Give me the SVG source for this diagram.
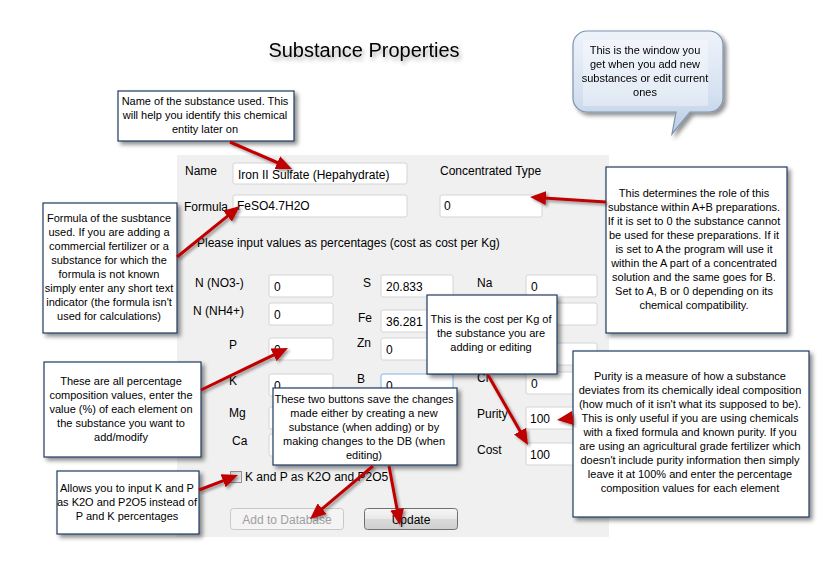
<svg xmlns="http://www.w3.org/2000/svg" width="818" height="587" viewBox="0 0 818 587">
<defs>
<style>
text{font-family:"Liberation Sans",Arial,sans-serif;}
.lbl{font-size:12px;fill:#000;}
.fld{fill:#fff;stroke:#d4d4d4;stroke-width:1;}
.ft{font-size:12px;fill:#000;}
.co{fill:#fff;stroke:#1f3a60;stroke-width:1.2;}
.ct{font-size:11px;fill:#000;text-anchor:middle;}
.ar{stroke:#c00000;stroke-width:3;fill:none;marker-end:url(#ah);}
</style>
<filter id="sh" x="-10%" y="-10%" width="130%" height="130%">
<feDropShadow dx="3" dy="3" stdDeviation="2" flood-color="#000" flood-opacity="0.45"/>
</filter>
<filter id="ash" x="-20%" y="-20%" width="140%" height="140%">
<feDropShadow dx="2" dy="2" stdDeviation="1.5" flood-color="#000" flood-opacity="0.4"/>
</filter>
<filter id="tsh" x="-10%" y="-30%" width="120%" height="180%">
<feDropShadow dx="2" dy="3" stdDeviation="2" flood-color="#000" flood-opacity="0.35"/>
</filter>
<marker id="ah" markerUnits="userSpaceOnUse" markerWidth="17" markerHeight="14" refX="6" refY="7" orient="auto">
<path d="M0,0 L16,7 L0,14 z" fill="#c00000"/>
</marker>
<linearGradient id="bub" x1="0" y1="0" x2="0" y2="1">
<stop offset="0" stop-color="#eef3fa"/>
<stop offset="0.6" stop-color="#d6e2f1"/>
<stop offset="1" stop-color="#b9cbe3"/>
</linearGradient>
<linearGradient id="btn" x1="0" y1="0" x2="0" y2="1">
<stop offset="0" stop-color="#f6f6f6"/>
<stop offset="0.5" stop-color="#e8e8e8"/>
<stop offset="0.51" stop-color="#dadada"/>
<stop offset="1" stop-color="#cfcfcf"/>
</linearGradient>
<linearGradient id="chk" x1="0" y1="0" x2="1" y2="1">
<stop offset="0" stop-color="#c8c8c8"/>
<stop offset="1" stop-color="#f4f4f4"/>
</linearGradient>
</defs>
<rect width="818" height="587" fill="#fff"/>

<g id="title">
<text x="364" y="57" font-size="20" text-anchor="middle" filter="url(#tsh)">Substance Properties</text>
</g>

<g id="form">
<rect x="177" y="155" width="432" height="382" fill="#f0f0f0"/>
<text class="lbl" x="185" y="175">Name</text>
<rect class="fld" x="233" y="163" width="174" height="21" rx="2"/>
<text class="ft" x="238" y="179">Iron II Sulfate (Hepahydrate)</text>
<text class="lbl" x="440" y="175">Concentrated Type</text>
<text class="lbl" x="184" y="211">Formula</text>
<rect class="fld" x="233" y="195" width="174" height="22" rx="2"/>
<text class="ft" x="237" y="210">FeSO4.7H2O</text>
<rect class="fld" x="440" y="195" width="102" height="22" rx="2"/>
<text class="ft" x="444" y="210">0</text>
<text class="lbl" x="197" y="247">Please input values as percentages (cost as cost per Kg)</text>

<text class="lbl" x="195" y="287">N (NO3-)</text>
<rect class="fld" x="269" y="275" width="64" height="22" rx="2"/>
<text class="ft" x="274" y="291">0</text>
<text class="lbl" x="193" y="315">N (NH4+)</text>
<rect class="fld" x="269" y="303" width="64" height="22" rx="2"/>
<text class="ft" x="274" y="319">0</text>
<text class="lbl" x="229" y="349">P</text>
<rect class="fld" x="269" y="338" width="64" height="22" rx="2"/>
<text class="ft" x="274" y="354">0</text>
<text class="lbl" x="229" y="385">K</text>
<rect class="fld" x="269" y="374" width="64" height="22" rx="2"/>
<text class="ft" x="274" y="390">0</text>
<text class="lbl" x="229" y="417">Mg</text>
<rect class="fld" x="269" y="407" width="64" height="22" rx="2"/>
<text class="lbl" x="232" y="445">Ca</text>
<rect class="fld" x="269" y="434" width="64" height="22" rx="2"/>

<text class="lbl" x="363" y="287">S</text>
<rect class="fld" x="381" y="275" width="72" height="22" rx="2"/>
<text class="ft" x="386" y="291">20.833</text>
<text class="lbl" x="358" y="322">Fe</text>
<rect class="fld" x="381" y="310" width="72" height="22" rx="2"/>
<text class="ft" x="386" y="326">36.281</text>
<text class="lbl" x="357" y="347">Zn</text>
<rect class="fld" x="381" y="338" width="72" height="22" rx="2"/>
<text class="ft" x="386" y="354">0</text>
<text class="lbl" x="357" y="383">B</text>
<rect x="381" y="374" width="72" height="22" rx="2" fill="#fff" stroke="#7eb4ea"/>
<text class="ft" x="386" y="390">0</text>
<rect class="fld" x="381" y="407" width="72" height="22" rx="2"/>
<rect class="fld" x="381" y="434" width="72" height="22" rx="2"/>

<text class="lbl" x="477" y="287">Na</text>
<rect class="fld" x="526" y="275" width="71" height="22" rx="2"/>
<text class="ft" x="531" y="291">0</text>
<rect class="fld" x="526" y="303" width="71" height="22" rx="2"/>
<rect class="fld" x="526" y="343" width="71" height="22" rx="2"/>
<text class="lbl" x="477" y="382">Cl</text>
<rect class="fld" x="526" y="372" width="71" height="22" rx="2"/>
<text class="ft" x="531" y="388">0</text>
<text class="lbl" x="477" y="418">Purity</text>
<rect class="fld" x="526" y="407" width="71" height="22" rx="2"/>
<text class="ft" x="530" y="423">100</text>
<text class="lbl" x="477" y="454">Cost</text>
<rect class="fld" x="526" y="443" width="71" height="22" rx="2"/>
<text class="ft" x="530" y="459">100</text>

<rect x="230.5" y="471.5" width="11" height="11" fill="url(#chk)" stroke="#8e8f8f"/>
<text class="lbl" x="245" y="481">K and P as K2O and P2O5</text>

<rect x="230.5" y="508.5" width="113" height="21" rx="3" fill="#f4f4f4" stroke="#c8c8c8"/>
<text x="287" y="524" font-size="12" fill="#a0a0a0" text-anchor="middle">Add to Database</text>
<rect x="364.5" y="508.5" width="93" height="21" rx="3" fill="url(#btn)" stroke="#707070"/>
<text x="411" y="524" font-size="12" fill="#000" text-anchor="middle">Update</text>
</g>

<g id="bubble" filter="url(#sh)">
<path d="M587,31 H709 A14,14 0 0 1 723,45 V98 A14,14 0 0 1 709,112 H690 L672,134 L676,112 H587 A14,14 0 0 1 573,98 V45 A14,14 0 0 1 587,31 Z" fill="url(#bub)" stroke="#7f93ad" stroke-width="1.2"/>
<rect x="583" y="40" width="125" height="66" fill="#fff" opacity="0.35"/>
<text class="ct" x="645" y="54">This is the window you</text>
<text class="ct" x="645" y="68">get when you add new</text>
<text class="ct" x="645" y="82">substances or edit current</text>
<text class="ct" x="645" y="96">ones</text>
</g>

<g id="callout-name">
<rect class="co" x="118" y="91" width="176" height="50" filter="url(#sh)"/>
<text class="ct" x="205" y="105">Name of the substance used. This</text>
<text class="ct" x="205" y="119">will help you identify this chemical</text>
<text class="ct" x="205" y="133">entity later on</text>
</g>

<g id="callout-formula">
<rect class="co" x="43" y="203" width="134" height="130" filter="url(#sh)"/>
<text class="ct" x="109" y="222">Formula of the susbtance</text>
<text class="ct" x="109" y="236">used. If you are adding a</text>
<text class="ct" x="109" y="250">commercial fertilizer or a</text>
<text class="ct" x="109" y="264">substance for which the</text>
<text class="ct" x="109" y="278">formula is not known</text>
<text class="ct" x="109" y="292">simply enter any short text</text>
<text class="ct" x="109" y="306">indicator (the formula isn't</text>
<text class="ct" x="109" y="320">used for calculations)</text>
</g>

<g id="callout-concentrated">
<rect class="co" x="606" y="167" width="181" height="166" filter="url(#sh)"/>
<text class="ct" x="694" y="197">This determines the role of this</text>
<text class="ct" x="694" y="211">substance within A+B preparations.</text>
<text class="ct" x="694" y="225">If it is set to 0 the substance cannot</text>
<text class="ct" x="694" y="239">be used for these preparations. If it</text>
<text class="ct" x="694" y="253">is set to A the program will use it</text>
<text class="ct" x="694" y="267">within the A part of a concentrated</text>
<text class="ct" x="694" y="281">solution and the same goes for B.</text>
<text class="ct" x="694" y="295">Set to A, B or 0 depending on its</text>
<text class="ct" x="694" y="309">chemical compatibility.</text>
</g>

<g id="callout-cost">
<rect class="co" x="427" y="295" width="130" height="79" filter="url(#sh)"/>
<text class="ct" x="491" y="323">This is the cost per Kg of</text>
<text class="ct" x="491" y="337">the substance you are</text>
<text class="ct" x="491" y="351">adding or editing</text>
</g>

<g id="callout-purity">
<rect class="co" x="573" y="351" width="236" height="166" filter="url(#sh)"/>
<text class="ct" x="690" y="380">Purity is a measure of how a substance</text>
<text class="ct" x="690" y="394">deviates from its chemically ideal composition</text>
<text class="ct" x="690" y="408">(how much of it isn't what its supposed to be).</text>
<text class="ct" x="690" y="422">This is only useful if you are using chemicals</text>
<text class="ct" x="690" y="436">with a fixed formula and known purity. If you</text>
<text class="ct" x="690" y="450">are using an agricultural grade fertilizer which</text>
<text class="ct" x="690" y="464">doesn't include purity information then simply</text>
<text class="ct" x="690" y="478">leave it at 100% and enter the percentage</text>
<text class="ct" x="690" y="492">composition values for each element</text>
</g>

<g id="callout-percent">
<rect class="co" x="44" y="362" width="157" height="95" filter="url(#sh)"/>
<text class="ct" x="121" y="385">These are all percentage</text>
<text class="ct" x="121" y="399">composition values, enter the</text>
<text class="ct" x="121" y="413">value (%) of each element on</text>
<text class="ct" x="121" y="427">the substance you want to</text>
<text class="ct" x="121" y="441">add/modify</text>
</g>

<g id="callout-k2o">
<rect class="co" x="57" y="471" width="142" height="63" filter="url(#sh)"/>
<text class="ct" x="127" y="492">Allows you to input K and P</text>
<text class="ct" x="127" y="506">as K2O and P2O5 instead of</text>
<text class="ct" x="127" y="520">P and K percentages</text>
</g>

<g id="callout-buttons">
<rect class="co" x="273" y="388" width="184" height="77" filter="url(#sh)"/>
<text class="ct" x="364" y="403">These two buttons save the changes</text>
<text class="ct" x="364" y="417">made either by creating a new</text>
<text class="ct" x="364" y="431">substance (when adding) or by</text>
<text class="ct" x="364" y="445">making changes to the DB (when</text>
<text class="ct" x="364" y="459">editing)</text>
</g>

<g id="connectors" filter="url(#ash)">
<path class="ar" d="M230,142 L282.8,165"/>
<path class="ar" d="M177,257 L232.2,212.3"/>
<path class="ar" d="M606,202 L540,197.7"/>
<path class="ar" d="M488,375 L523,436.3"/>
<path class="ar" d="M573,418 L566.9,418.8"/>
<path class="ar" d="M201,390 L279,352.3"/>
<path class="ar" d="M199,490 L228.7,478.6"/>
<path class="ar" d="M373,466 L317.6,512.6"/>
<path class="ar" d="M389,466 L398.2,515.2"/>
</g>
</svg>
